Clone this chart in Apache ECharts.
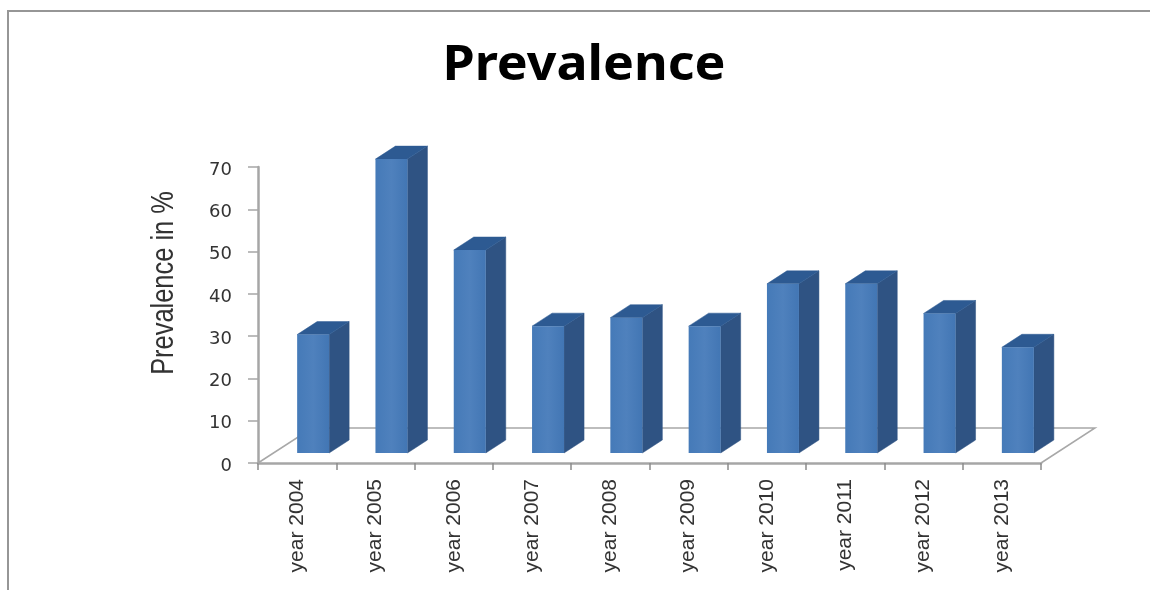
<!DOCTYPE html>
<html>
<head>
<meta charset="utf-8">
<style>html,body{margin:0;padding:0;background:#fff}#chart{width:1150px;height:590px}</style>
<script src="https://cdn.jsdelivr.net/npm/echarts@6/dist/echarts.min.js"></script>
</head>
<body>
<div id="chart"></div>
<script>
// Prevalence by year, drawn as Excel-style 3D columns on a perspective floor.
const years = ['year 2004','year 2005','year 2006','year 2007','year 2008','year 2009','year 2010','year 2011','year 2012','year 2013'];
const prevalence = [28, 69.5, 48, 30, 32, 30, 40, 40, 33, 25];
const yTicks = {min: 0, max: 70, step: 10};

// Pixel depth of the extruded look
const COLUMN_DEPTH = [20, -13];
const FLOOR_DEPTH = [54, -35];
const COLUMN_LIFT = 10;
const COLUMN_SHIFT = 16;
const COLUMN_WIDTH = 32;

function renderColumn(params, api) {
  const base = api.coord([api.value(0), 0]);
  const top = api.coord([api.value(0), api.value(1)]);
  const l = base[0] + COLUMN_SHIFT - COLUMN_WIDTH / 2, r = l + COLUMN_WIDTH;
  const yb = base[1] - COLUMN_LIFT, yt = top[1] - COLUMN_LIFT;
  const [dx, dy] = COLUMN_DEPTH;
  return {
    type: 'group',
    children: [
      {type: 'polygon', shape: {points: [[r, yb], [r + dx, yb + dy], [r + dx, yt + dy], [r, yt]]}, style: {fill: '#2f5383', stroke: '#2f5383', lineWidth: 0.5}},
      {type: 'polygon', shape: {points: [[l, yt], [l + dx, yt + dy], [r + dx, yt + dy], [r, yt]]}, style: {fill: '#2d5a92', stroke: '#2d5a92', lineWidth: 0.5}},
      {type: 'rect', shape: {x: l, y: yt, width: COLUMN_WIDTH, height: yb - yt}, style: {
        fill: {type: 'linear', x: 0, y: 0, x2: 1, y2: 0, colorStops: [
          {offset: 0, color: '#457ab8'}, {offset: 0.5, color: '#4f81bd'}, {offset: 1, color: '#4276b4'}
        ]}
      }}
    ]
  };
}

function renderFloor(params, api) {
  const a = api.coord([0, 0]);
  const size = api.size([1, 0]);
  const x0 = a[0] - size[0] / 2, x1 = x0 + size[0] * years.length, y = a[1];
  const [dx, dy] = FLOOR_DEPTH;
  return {
    type: 'polyline',
    shape: {points: [[x0, y], [x0 + dx, y + dy], [x1 + dx, y + dy], [x1, y]]},
    style: {stroke: '#a8a8a8', lineWidth: 1.5, fill: 'none'}
  };
}

const chart = echarts.init(document.getElementById('chart'), null, {renderer: 'canvas'});
chart.setOption({
  animation: false,
  backgroundColor: '#fff',
  grid: {left: 258, top: 167, width: 783, height: 296, containLabel: false},
  xAxis: {
    type: 'category', data: years, boundaryGap: true,
    axisLine: {lineStyle: {color: '#a6a6a6', width: 2.5}},
    axisTick: {show: true, length: 7, lineStyle: {color: '#8c8c8c', width: 1.5}},
    axisLabel: {rotate: 90, margin: 16, interval: 0, fontFamily: 'Liberation Sans', fontSize: 21, color: '#333'}
  },
  yAxis: {
    type: 'value', min: yTicks.min, max: yTicks.max, interval: yTicks.step,
    axisLine: {show: true, lineStyle: {color: '#a6a6a6', width: 2.5}},
    axisTick: {show: true, length: 10, lineStyle: {color: '#a6a6a6', width: 1.5}},
    axisLabel: {margin: 26, verticalAlign: 'top', lineHeight: 6, fontFamily: 'DejaVu Sans', fontSize: 18, color: '#333'},
    splitLine: {show: false}
  },
  series: [
    {type: 'custom', silent: true, clip: false, z: 1, renderItem: renderFloor, data: [[0, 0]], encode: {x: 0, y: 1}},
    {type: 'custom', clip: false, z: 2, renderItem: renderColumn,
     data: prevalence.map((v, i) => [i, v]), encode: {x: 0, y: 1}}
  ],
  graphic: [
    {type: 'polyline', silent: true, shape: {points: [[8, 590], [8, 11], [1150, 11]]}, style: {stroke: '#969696', lineWidth: 2, fill: 'none'}},
    // Chart title, widened slightly
    {type: 'text', silent: true, x: 584, y: 66, scaleX: 1.06, style: {
      text: 'Prevalence', align: 'center', verticalAlign: 'middle',
      fontFamily: 'Noto Sans', fontWeight: 'bold', fontSize: 49, fill: '#000'
    }},
    // Vertical axis title, condensed along its reading direction
    {type: 'text', silent: true, x: 164, y: 283, rotation: Math.PI / 2, scaleX: 0.82, style: {
      text: 'Prevalence in %', align: 'center', verticalAlign: 'middle',
      fontFamily: 'Liberation Sans', fontSize: 31, fill: '#333'
    }}
  ]
});
</script>
</body>
</html>
